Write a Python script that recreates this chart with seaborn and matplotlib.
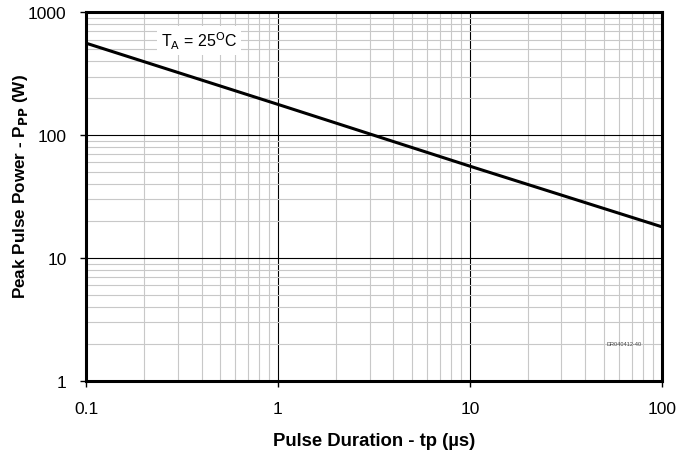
import numpy as np
import pandas as pd
import seaborn as sns
import matplotlib.pyplot as plt
from matplotlib.ticker import LogLocator, NullFormatter, FixedLocator, FixedFormatter

pulse_us = [0.1, 1, 10, 100]
power_w = [560, 178, 56, 18]

df = pd.DataFrame({"tp": pulse_us, "Ppp": power_w})

sns.set_style("white")
plt.rcParams["font.family"] = ["Liberation Sans", "DejaVu Sans"]
plt.rcParams["text.color"] = "black"
plt.rcParams["axes.labelcolor"] = "black"
plt.rcParams["xtick.color"] = "black"
plt.rcParams["ytick.color"] = "black"

fig = plt.figure(figsize=(6.78, 4.56), dpi=100)
ax = fig.add_axes([0.127, 0.162, 0.849, 0.809])

sns.lineplot(data=df, x="tp", y="Ppp", color="black", linewidth=2.2, ax=ax)

ax.set_xscale("log")
ax.set_yscale("log")
ax.set_xlim(0.1, 100)
ax.set_ylim(1, 1000)

xt = [0.1, 1, 10, 100]
yt = [1, 10, 100, 1000]
ax.xaxis.set_major_locator(FixedLocator(xt))
ax.xaxis.set_major_formatter(FixedFormatter(["0.1", "1", "10", "100"]))
ax.yaxis.set_major_locator(FixedLocator(yt))
ax.yaxis.set_major_formatter(FixedFormatter(["1", "10", "100", "1000"]))
ax.xaxis.set_minor_locator(LogLocator(base=10, subs=np.arange(2, 10)))
ax.yaxis.set_minor_locator(LogLocator(base=10, subs=np.arange(2, 10)))
ax.xaxis.set_minor_formatter(NullFormatter())
ax.yaxis.set_minor_formatter(NullFormatter())

ax.grid(which="minor", color="#c8c8c8", linewidth=0.8)
ax.grid(which="major", color="black", linewidth=0.8)
ax.set_axisbelow(True)

for s in ax.spines.values():
    s.set_linewidth(2.2)
    s.set_color("black")

ax.tick_params(which="major", direction="out", length=4, width=1, labelsize=12.5,
               bottom=True, left=True, pad=10)
ax.tick_params(which="minor", length=0)

ax.set_xlabel("Pulse Duration - tp (µs)", fontsize=13.3, fontweight="bold", labelpad=12)
ax.set_ylabel(r"Peak Pulse Power - P$_{\mathbf{PP}}$ (W)", fontsize=12.3, fontweight="bold")
ax.yaxis.set_label_coords(-0.097, 0.53)

ax.text(0.245, 590, r"T$_{\mathrm{A}}$ = 25$^{\mathrm{O}}$C", fontsize=11.5, ha="left", va="center",
        bbox=dict(facecolor="white", edgecolor="none", pad=3))
ax.text(0.965, 0.103, "DR040412-40", transform=ax.transAxes, fontsize=4, ha="right",
        va="center", color="#444444")

fig.savefig("out.png", dpi=100)
